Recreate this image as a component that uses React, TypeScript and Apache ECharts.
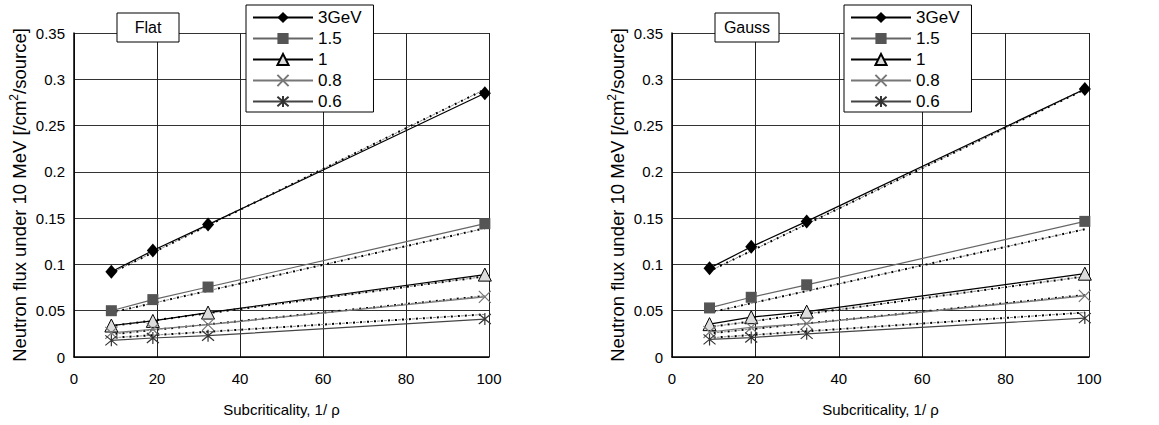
import React, { useEffect, useRef } from "react";
import * as echarts from "echarts";

const xs = [9, 19, 32.3, 99];
const seriesNames = ["3GeV", "1.5", "1", "0.8", "0.6"];

const flat3 = [0.092, 0.115, 0.143, 0.285];
const flat15 = [0.05, 0.062, 0.0756, 0.144];
const flat1 = [0.034, 0.039, 0.048, 0.089];
const flat08 = [0.026, 0.03, 0.035, 0.065];
const flat06 = [0.018, 0.0205, 0.023, 0.041];

const gauss3 = [0.096, 0.119, 0.1465, 0.2895];
const gauss15 = [0.053, 0.0645, 0.078, 0.1465];
const gauss1 = [0.0355, 0.043, 0.049, 0.09];
const gauss08 = [0.027, 0.032, 0.036, 0.066];
const gauss06 = [0.019, 0.021, 0.025, 0.042];

const fitX = [10, 99];
const flatFit3 = [0.093, 0.289];
const flatFit15 = [0.049, 0.139];
const flatFit1 = [0.034, 0.087];
const flatFit08 = [0.025, 0.066];
const flatFit06 = [0.021, 0.046];

const gaussFit3 = [0.095, 0.289];
const gaussFit15 = [0.049, 0.138];
const gaussFit1 = [0.033, 0.087];
const gaussFit08 = [0.026, 0.067];
const gaussFit06 = [0.021, 0.048];

const panelTitles = ["Flat", "Gauss"];
const xTicks = { min: 0, max: 100, interval: 20 };
const yTicks = { min: 0, max: 0.35, interval: 0.05 };

const FONT = "'Liberation Sans', Arial, sans-serif";

const X_PATH = "path://M0,0L10,10M10,0L0,10";
const AST_PATH = "path://M0,1L10,11M10,1L0,11M5,0L5,12";

const styles = [
  { symbol: "diamond", size: [12, 14], line: "#000", item: { color: "#000", borderColor: "#000", borderWidth: 0 } },
  { symbol: "rect", size: 11, line: "#666", item: { color: "#555", borderColor: "#555", borderWidth: 0 } },
  { symbol: "triangle", size: 13, line: "#000", item: { color: "#ddd", borderColor: "#000", borderWidth: 1 } },
  { symbol: X_PATH, size: 12, line: "#777", item: { color: "none", borderColor: "#777", borderWidth: 1.2 } },
  { symbol: AST_PATH, size: 12, line: "#444", item: { color: "none", borderColor: "#333", borderWidth: 1.2 } },
];

function zip(a: number[], b: number[]) {
  return a.map((v, i) => [v, b[i]]);
}

export default function App() {
  const ref = useRef<HTMLDivElement>(null);
  useEffect(() => {
    if (!ref.current) return;
    const chart = echarts.init(ref.current, null, { renderer: "svg" });
    const panels = [
      { data: [flat3, flat15, flat1, flat08, flat06], fits: [flatFit3, flatFit15, flatFit1, flatFit08, flatFit06] },
      { data: [gauss3, gauss15, gauss1, gauss08, gauss06], fits: [gaussFit3, gaussFit15, gaussFit1, gaussFit08, gaussFit06] },
    ];
    const grids = [
      { left: 74, top: 33, width: 415, height: 324 },
      { left: 672, top: 33, width: 417, height: 324 },
    ];
    const series: any[] = [];
    panels.forEach((p, gi) => {
      p.fits.forEach((f, si) => {
        series.push({
          type: "line",
          name: "fitA" + gi + si,
          xAxisIndex: gi,
          yAxisIndex: gi,
          data: zip(fitX, f),
          symbol: "none",
          silent: true,
          z: 2,
          lineStyle: { color: "#000", width: 2, type: [2, 5] },
        });
        series.push({
          type: "line",
          name: "fitB" + gi + si,
          xAxisIndex: gi,
          yAxisIndex: gi,
          data: zip(fitX, f),
          symbol: "none",
          silent: true,
          z: 2,
          lineStyle: { color: "#888", width: 1, type: [3, 4], dashOffset: 4 },
        });
      });
      p.data.forEach((d, si) => {
        const s = styles[si];
        series.push({
          type: "line",
          name: seriesNames[si],
          xAxisIndex: gi,
          yAxisIndex: gi,
          data: zip(xs, d),
          symbol: s.symbol,
          symbolSize: s.size,
          showSymbol: true,
          z: 3,
          lineStyle: { color: s.line, width: 1.2 },
          itemStyle: s.item,
        });
      });
    });
    const axisLabel = { color: "#000", fontSize: 15, fontFamily: FONT };
    const xAxis = grids.map((_, i) => ({
      type: "value",
      gridIndex: i,
      min: xTicks.min,
      max: xTicks.max,
      interval: xTicks.interval,
      name: "Subcriticality, 1/ ρ",
      nameLocation: "middle",
      nameGap: 45,
      nameTextStyle: { color: "#000", fontSize: 15, fontFamily: FONT },
      axisLine: { show: true, onZero: false, lineStyle: { color: "#000", width: 1.5 } },
      axisTick: { show: false },
      axisLabel: { ...axisLabel, margin: 14 },
      splitLine: { show: true, lineStyle: { color: "#222", width: 1 } },
    }));
    const yAxis = grids.map((_, i) => ({
      type: "value",
      gridIndex: i,
      min: yTicks.min,
      max: yTicks.max,
      interval: yTicks.interval,
      name: "{a|Neutron flux under 10 MeV [/cm}{s|2}{a|/source]}",
      nameLocation: "middle",
      nameRotate: 90,
      nameGap: 44,
      nameTextStyle: {
        color: "#000",
        fontFamily: FONT,
        rich: {
          a: { fontSize: 18.5, fontFamily: FONT, color: "#000", lineHeight: 22 },
          s: { fontSize: 12, fontFamily: FONT, color: "#000", verticalAlign: "top", lineHeight: 22 },
        },
      },
      axisLine: { show: true, onZero: false, lineStyle: { color: "#000", width: 1.5 } },
      axisTick: { show: false },
      axisLabel: { ...axisLabel, margin: 9 },
      splitLine: { show: true, lineStyle: { color: "#333", width: 1 } },
    }));
    const legendLefts = [246, 844];
    const legend = legendLefts.map((l) => ({
      data: seriesNames,
      orient: "vertical",
      left: l,
      top: 5,
      itemWidth: 60,
      itemHeight: 14,
      itemGap: 4,
      padding: [4, 12, 2, 6],
      backgroundColor: "#fff",
      borderColor: "#000",
      borderWidth: 1,
      borderRadius: 0,
      selectedMode: false,
      textStyle: { color: "#000", fontSize: 17, fontFamily: FONT },
    }));
    const boxes = [
      { x: 117, y: 13, w: 62, h: 29 },
      { x: 715, y: 13, w: 64, h: 29 },
    ];
    const graphic: any[] = [];
    boxes.forEach((b, i) => {
      graphic.push({
        type: "rect",
        z: 100,
        shape: { x: b.x, y: b.y, width: b.w, height: b.h },
        style: { fill: "#fff", stroke: "#000", lineWidth: 1 },
      });
      graphic.push({
        type: "text",
        z: 101,
        x: b.x + b.w / 2,
        y: b.y + b.h / 2,
        style: {
          text: panelTitles[i],
          fill: "#000",
          fontSize: 16,
          fontFamily: FONT,
          textAlign: "center",
          textVerticalAlign: "middle",
        },
      });
    });
    chart.setOption({
      animation: false,
      backgroundColor: "#fff",
      grid: grids.map((g) => ({ ...g, show: false })),
      xAxis,
      yAxis,
      legend,
      series,
      graphic,
    } as any);
    return () => chart.dispose();
  }, []);
  return (
    <div
      ref={ref}
      style={{ position: "absolute", left: 0, top: 0, width: 1159, height: 425 }}
    />
  );
}
